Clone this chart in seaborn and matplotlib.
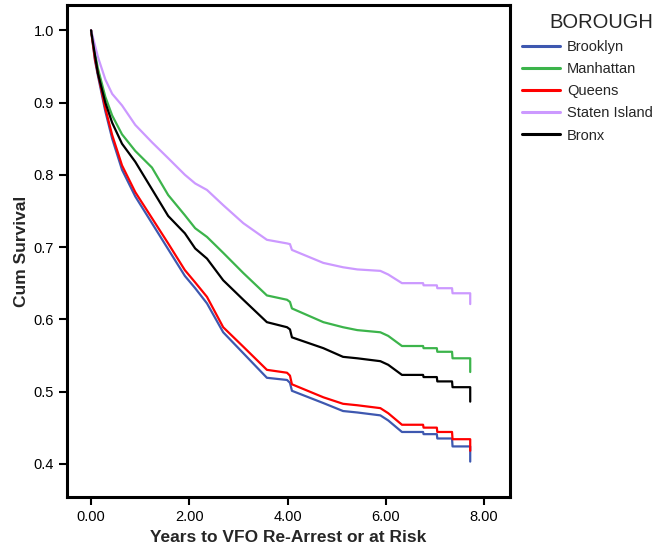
import numpy as np
import pandas as pd
import matplotlib
matplotlib.use("Agg")
import matplotlib.pyplot as plt
import seaborn as sns

sns.set_style("white")
plt.rcParams['font.family'] = ['Liberation Sans', 'DejaVu Sans']

years = [0, 0.08, 0.14, 0.29, 0.43, 0.63, 0.9, 1.24, 1.57, 1.91, 2.12, 2.36, 2.69, 3.1,
         3.58, 3.99, 4.05, 4.09, 4.73, 5.13, 5.42, 5.89, 6.05, 6.33, 6.76, 6.77, 7.04,
         7.05, 7.35, 7.36, 7.72, 7.72]

brooklyn = [1.0, 0.958, 0.937, 0.888, 0.85, 0.807, 0.77, 0.733, 0.697, 0.66, 0.643, 0.622,
            0.582, 0.553, 0.519, 0.516, 0.512, 0.501, 0.484, 0.473, 0.471, 0.467, 0.46,
            0.444, 0.444, 0.441, 0.441, 0.435, 0.435, 0.424, 0.424, 0.403]
manhattan = [1.0, 0.968, 0.947, 0.908, 0.882, 0.856, 0.833, 0.81, 0.772, 0.744, 0.726, 0.714,
             0.692, 0.664, 0.633, 0.627, 0.624, 0.615, 0.596, 0.589, 0.585, 0.582, 0.577,
             0.563, 0.563, 0.56, 0.56, 0.555, 0.555, 0.546, 0.546, 0.527]
queens = [1.0, 0.96, 0.94, 0.892, 0.855, 0.813, 0.776, 0.74, 0.705, 0.668, 0.651, 0.631,
          0.589, 0.562, 0.53, 0.526, 0.522, 0.51, 0.492, 0.483, 0.481, 0.477, 0.47,
          0.454, 0.454, 0.45, 0.45, 0.444, 0.444, 0.434, 0.434, 0.418]
staten = [1.0, 0.979, 0.963, 0.932, 0.912, 0.896, 0.869, 0.845, 0.823, 0.8, 0.788, 0.779,
          0.758, 0.733, 0.71, 0.705, 0.704, 0.696, 0.678, 0.672, 0.669, 0.667, 0.662,
          0.65, 0.65, 0.647, 0.647, 0.643, 0.643, 0.636, 0.636, 0.621]
bronx = [1.0, 0.965, 0.94, 0.9, 0.872, 0.843, 0.818, 0.78, 0.743, 0.719, 0.698, 0.684,
         0.654, 0.627, 0.596, 0.589, 0.586, 0.575, 0.56, 0.548, 0.546, 0.542, 0.537,
         0.523, 0.523, 0.52, 0.52, 0.514, 0.514, 0.506, 0.506, 0.486]

boroughs = ["Brooklyn", "Manhattan", "Queens", "Staten Island", "Bronx"]
series = [brooklyn, manhattan, queens, staten, bronx]
colors = ["#3e58b0", "#3cb44b", "#ff0000", "#cc99ff", "#000000"]

rows = []
for name, vals in zip(boroughs, series):
    for t, v in zip(years, vals):
        rows.append({"t": t, "s": v, "BOROUGH": name})
df = pd.DataFrame(rows)

fig = plt.figure(figsize=(6.63, 5.5), dpi=100)
ax = fig.add_axes([67/663, 1-497/550, (510-67)/663, (497-5)/550])

sns.lineplot(data=df, x="t", y="s", hue="BOROUGH", hue_order=boroughs,
             palette=dict(zip(boroughs, colors)), estimator=None, sort=False,
             linewidth=1.6, ax=ax)

ax.set_xlim(-0.49, 8.53)
ax.set_ylim(0.354, 1.035)
ax.set_xticks([0, 2, 4, 6, 8])
ax.set_xticklabels(["0.00", "2.00", "4.00", "6.00", "8.00"])
ax.set_yticks([0.4, 0.5, 0.6, 0.7, 0.8, 0.9, 1.0])
ax.set_yticklabels(["0.4", "0.5", "0.6", "0.7", "0.8", "0.9", "1.0"])
ax.tick_params(axis="both", direction="out", length=6, width=1.5, labelsize=10.5,
               colors="black", bottom=True, left=True)
for sp in ax.spines.values():
    sp.set_visible(True)
    sp.set_color("black")
    sp.set_linewidth(2.2)
ax.set_xlabel("Years to VFO Re-Arrest or at Risk", fontsize=12.5, fontweight="bold", labelpad=4)
ax.set_ylabel("Cum Survival", fontsize=12.5, fontweight="bold", labelpad=3)

leg = ax.legend(title="BOROUGH", loc="upper left", bbox_to_anchor=(1.007, 1.002),
                frameon=False, fontsize=10.5, title_fontsize=14.5, handlelength=2.6,
                handletextpad=0.5, labelspacing=0.56, borderaxespad=0.2)
for h in leg.get_lines():
    h.set_linewidth(2.2)
leg._legend_box.align = "right"

fig.savefig("out.png", dpi=100)
